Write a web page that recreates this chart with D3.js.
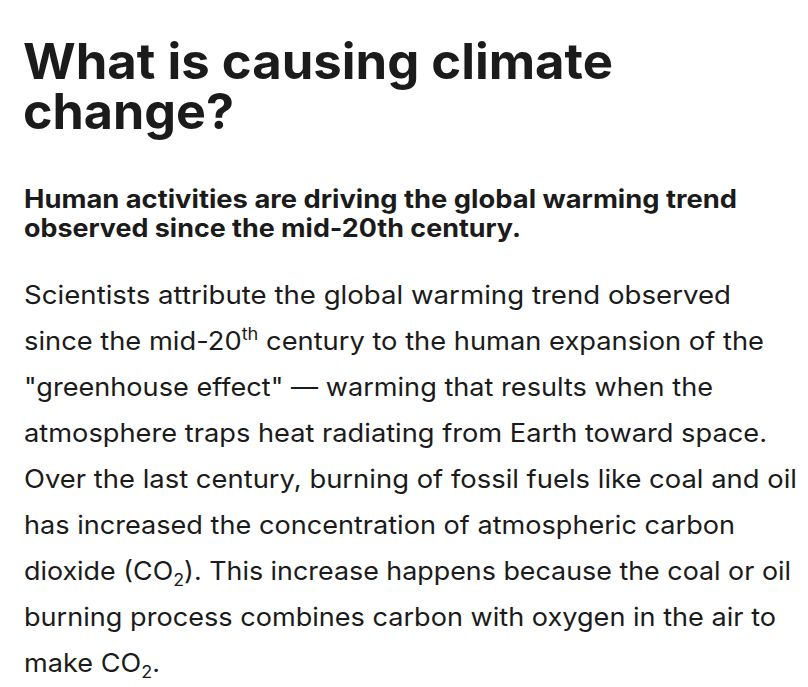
<!DOCTYPE html>
<html><head><meta charset="utf-8">
<script src="https://cdn.jsdelivr.net/npm/d3@7"></script>
<style>body{margin:0;background:#fff}</style></head>
<body><script>
const titleLines = ["What is causing climate", "change?"];
const titleWidths = [590, 211];
const subtitleLines = ["Human activities are driving the global warming trend", "observed since the mid-20th century."];
const subtitleWidths = [713, 497];
const bodyLines = [
  [["Scientists attribute the global warming trend observed","n"]],
  [["since the mid-20","n"],["th","sup"],[" century to the human expansion of the","n"]],
  [["\"greenhouse effect\" — warming that results when the","n"]],
  [["atmosphere traps heat radiating from Earth toward space.","n"]],
  [["Over the last century, burning of fossil fuels like coal and oil","n"]],
  [["has increased the concentration of atmospheric carbon","n"]],
  [["dioxide (CO","n"],["2","sub"],["). This increase happens because the coal or oil","n"]],
  [["burning process combines carbon with oxygen in the air to","n"]],
  [["make CO","n"],["2","sub"],[".","n"]]
];
const bodyWidths = [707,740,689,743,773,711,767,752,136];
const W=808,H=687;
const svg=d3.select("body").append("svg").attr("width",W).attr("height",H);
const font="Inter, 'Open Sans', sans-serif";
const yT=d3.scaleLinear().domain([0,1]).range([79,129]);
svg.selectAll("text.t").data(titleLines).join("text").attr("class","t")
  .attr("x",23).attr("y",(d,i)=>yT(i)).attr("font-family",font).attr("font-weight",700)
  .attr("font-size",50).attr("fill","#1b1b1b")
  .attr("textLength",(d,i)=>titleWidths[i]).attr("lengthAdjust","spacingAndGlyphs").text(d=>d);
const yS=d3.scaleLinear().domain([0,1]).range([208,237]);
svg.selectAll("text.s").data(subtitleLines).join("text").attr("class","s")
  .attr("x",24).attr("y",(d,i)=>yS(i)).attr("font-family",font).attr("font-weight",700)
  .attr("font-size",25).attr("fill","#1b1b1b")
  .attr("textLength",(d,i)=>subtitleWidths[i]).attr("lengthAdjust","spacingAndGlyphs").text(d=>d);
const yB=d3.scaleLinear().domain([0,1]).range([304,350]);
const bl=svg.selectAll("text.b").data(bodyLines).join("text").attr("class","b")
  .attr("x",24).attr("y",(d,i)=>yB(i)).attr("font-family",font).attr("font-weight",400)
  .attr("font-size",25.5).attr("fill","#1b1b1b")
  .attr("textLength",(d,i)=>bodyWidths[i]).attr("lengthAdjust","spacingAndGlyphs");
bl.each(function(segs){
  const t=d3.select(this);
  let prev=null;
  segs.forEach(([s,m])=>{
    const ts=t.append("tspan").text(s);
    if(m==="sup") ts.attr("font-size",17).attr("dy",-10);
    if(m==="sub") ts.attr("font-size",17).attr("dy",6);
    if(m==="n" && prev) ts.attr("dy",prev==="sup"?10:prev==="sub"?-6:0);
    prev=m;
  });
});
</script></body></html>
